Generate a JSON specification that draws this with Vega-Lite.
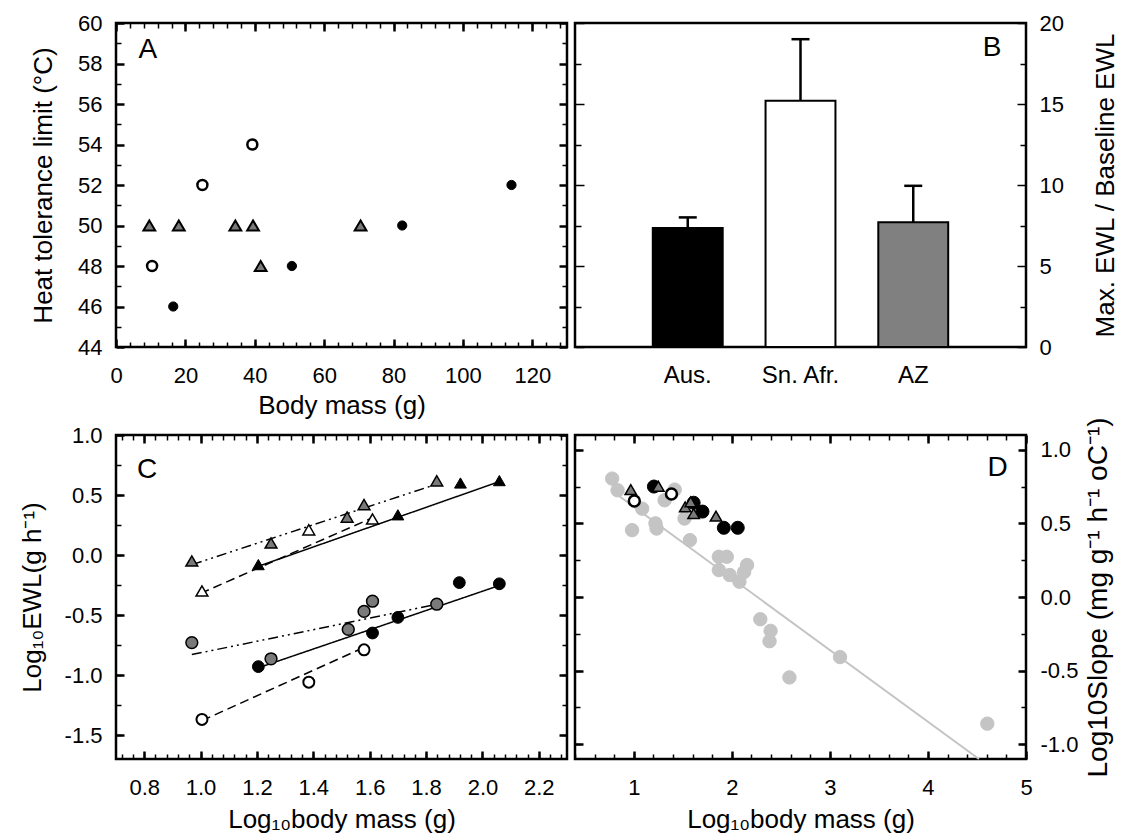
{
  "$schema": "https://vega.github.io/schema/vega-lite/v6.json",
  "padding": {"left": 17, "top": 10, "right": 5, "bottom": 5},
  "background": "white",
  "config": {
    "font": "Liberation Sans",
    "view": {"stroke": "black", "strokeWidth": 2.5},
    "axis": {"labelFont": "Liberation Sans", "titleFont": "Liberation Sans", "labelFontSize": 22, "titleFontSize": 26, "titleFontWeight": "normal", "labelColor": "black", "titleColor": "black", "domainColor": "black", "tickColor": "black", "grid": false, "labelFlush": false, "labelOverlap": false, "domain": false},
    "text": {"font": "Liberation Sans"}
  },
  "datasets": {
    "A": [
      {"mass": 9.6, "htl": 50, "g": "AZ"}, {"mass": 18.1, "htl": 50, "g": "AZ"}, {"mass": 34.4, "htl": 50, "g": "AZ"}, {"mass": 39.5, "htl": 50, "g": "AZ"}, {"mass": 70.5, "htl": 50, "g": "AZ"}, {"mass": 41.7, "htl": 48, "g": "AZ"},
      {"mass": 10.4, "htl": 48, "g": "SA"}, {"mass": 24.9, "htl": 52, "g": "SA"}, {"mass": 39.3, "htl": 54, "g": "SA"},
      {"mass": 16.5, "htl": 46, "g": "Aus"}, {"mass": 50.7, "htl": 48, "g": "Aus"}, {"mass": 82.5, "htl": 50, "g": "Aus"}, {"mass": 114, "htl": 52, "g": "Aus"}
    ],
    "Alabel": [{"label": "A", "mass": 9.2, "htl": 58.65}],
    "B": [
      {"site": "Aus.", "mean": 7.35, "upper": 8.0},
      {"site": "Sn. Afr.", "mean": 15.2, "upper": 19.0},
      {"site": "AZ", "mean": 7.7, "upper": 9.95}
    ],
    "Blabel": [{"label": "B", "px": 0.925, "py": 18.47}],
    "Cpts": [
      {"logm": 1.205, "logewl": -0.93, "g": "Aus_c"}, {"logm": 1.61, "logewl": -0.65, "g": "Aus_c"}, {"logm": 1.70, "logewl": -0.52, "g": "Aus_c"}, {"logm": 1.918, "logewl": -0.23, "g": "Aus_c"}, {"logm": 2.06, "logewl": -0.24, "g": "Aus_c"},
      {"logm": 0.969, "logewl": -0.73, "g": "AZ_c"}, {"logm": 1.25, "logewl": -0.865, "g": "AZ_c"}, {"logm": 1.524, "logewl": -0.62, "g": "AZ_c"}, {"logm": 1.58, "logewl": -0.47, "g": "AZ_c"}, {"logm": 1.61, "logewl": -0.385, "g": "AZ_c"}, {"logm": 1.838, "logewl": -0.41, "g": "AZ_c"},
      {"logm": 1.005, "logewl": -1.37, "g": "SA_c"}, {"logm": 1.384, "logewl": -1.06, "g": "SA_c"}, {"logm": 1.58, "logewl": -0.79, "g": "SA_c"},
      {"logm": 1.205, "logewl": -0.08, "g": "Aus_t"}, {"logm": 1.70, "logewl": 0.335, "g": "Aus_t"}, {"logm": 1.922, "logewl": 0.60, "g": "Aus_t"}, {"logm": 2.06, "logewl": 0.62, "g": "Aus_t"},
      {"logm": 0.969, "logewl": -0.05, "g": "AZ_t"}, {"logm": 1.25, "logewl": 0.10, "g": "AZ_t"}, {"logm": 1.52, "logewl": 0.316, "g": "AZ_t"}, {"logm": 1.58, "logewl": 0.42, "g": "AZ_t"}, {"logm": 1.838, "logewl": 0.618, "g": "AZ_t"},
      {"logm": 1.005, "logewl": -0.30, "g": "SA_t"}, {"logm": 1.384, "logewl": 0.21, "g": "SA_t"}, {"logm": 1.61, "logewl": 0.30, "g": "SA_t"}
    ],
    "Clines": [
      {"logm": 1.21, "logewl": -0.09, "line": "Aus_t", "style": "solid"}, {"logm": 2.07, "logewl": 0.62, "line": "Aus_t", "style": "solid"},
      {"logm": 0.97, "logewl": -0.08, "line": "AZ_t", "style": "dashdot"}, {"logm": 1.85, "logewl": 0.60, "line": "AZ_t", "style": "dashdot"},
      {"logm": 1.0, "logewl": -0.32, "line": "SA_t", "style": "dashed"}, {"logm": 1.6, "logewl": 0.30, "line": "SA_t", "style": "dashed"},
      {"logm": 1.205, "logewl": -0.94, "line": "Aus_c", "style": "solid"}, {"logm": 2.065, "logewl": -0.25, "line": "Aus_c", "style": "solid"},
      {"logm": 0.969, "logewl": -0.83, "line": "AZ_c", "style": "dashdot"}, {"logm": 1.84, "logewl": -0.41, "line": "AZ_c", "style": "dashdot"},
      {"logm": 1.005, "logewl": -1.38, "line": "SA_c", "style": "dashed"}, {"logm": 1.58, "logewl": -0.77, "line": "SA_c", "style": "dashed"}
    ],
    "Clabel": [{"label": "C", "logm": 0.81, "logewl": 0.708}],
    "Dpts": [
      {"logm": 0.779, "slope": 0.804, "g": "other"}, {"logm": 0.834, "slope": 0.725, "g": "other"}, {"logm": 0.982, "slope": 0.454, "g": "other"}, {"logm": 1.085, "slope": 0.60, "g": "other"}, {"logm": 1.221, "slope": 0.50, "g": "other"}, {"logm": 1.232, "slope": 0.465, "g": "other"}, {"logm": 1.314, "slope": 0.657, "g": "other"}, {"logm": 1.417, "slope": 0.729, "g": "other"}, {"logm": 1.517, "slope": 0.533, "g": "other"}, {"logm": 1.572, "slope": 0.386, "g": "other"}, {"logm": 1.867, "slope": 0.273, "g": "other"}, {"logm": 1.948, "slope": 0.273, "g": "other"}, {"logm": 1.867, "slope": 0.183, "g": "other"}, {"logm": 1.978, "slope": 0.149, "g": "other"}, {"logm": 2.077, "slope": 0.104, "g": "other"}, {"logm": 2.155, "slope": 0.217, "g": "other"}, {"logm": 2.125, "slope": 0.17, "g": "other"}, {"logm": 2.29, "slope": -0.151, "g": "other"}, {"logm": 2.395, "slope": -0.23, "g": "other"}, {"logm": 2.384, "slope": -0.30, "g": "other"}, {"logm": 2.587, "slope": -0.546, "g": "other"}, {"logm": 3.103, "slope": -0.408, "g": "other"}, {"logm": 4.605, "slope": -0.86, "g": "other"},
      {"logm": 1.205, "slope": 0.75, "g": "Aus"}, {"logm": 1.61, "slope": 0.64, "g": "Aus"}, {"logm": 1.70, "slope": 0.58, "g": "Aus"}, {"logm": 1.918, "slope": 0.47, "g": "Aus"}, {"logm": 2.06, "slope": 0.47, "g": "Aus"},
      {"logm": 1.005, "slope": 0.652, "g": "SA"}, {"logm": 1.384, "slope": 0.70, "g": "SA"},
      {"logm": 0.969, "slope": 0.729, "g": "AZ"}, {"logm": 1.25, "slope": 0.752, "g": "AZ"}, {"logm": 1.524, "slope": 0.612, "g": "AZ"}, {"logm": 1.58, "slope": 0.646, "g": "AZ"}, {"logm": 1.61, "slope": 0.567, "g": "AZ"}, {"logm": 1.838, "slope": 0.549, "g": "AZ"}
    ],
    "Dline": [{"logm": 0.78, "slope": 0.72}, {"logm": 4.52, "slope": -1.10}],
    "Dlabel": [{"label": "D", "logm": 4.71, "slope": 0.876}]
  },
  "bounds": "flush",
  "columns": 2,
  "spacing": {"row": 88, "column": 8},
  "concat": [
    {
      "width": 451, "height": 324,
      "resolve": {"axis": {"x": "independent", "y": "independent"}},
      "layer": [
        {
          "data": {"name": "A"}, "transform": [{"filter": "datum.g == 'AZ'"}],
          "mark": {"type": "point", "shape": "triangle-up", "filled": true, "fill": "#7a7a7a", "stroke": "black", "strokeWidth": 2, "size": 140, "opacity": 1},
          "encoding": {
            "x": {"field": "mass", "type": "quantitative", "scale": {"domain": [0, 130], "nice": false, "zero": false}, "axis": {"orient": "bottom", "values": [0, 20, 40, 60, 80, 100, 120], "tickSize": 8, "offset": -8, "tickWidth": 2.5, "labelPadding": 18, "title": "Body mass (g)", "titlePadding": 6}},
            "y": {"field": "htl", "type": "quantitative", "scale": {"domain": [44, 60], "nice": false, "zero": false}, "axis": {"orient": "left", "values": [44, 46, 48, 50, 52, 54, 56, 58, 60], "tickSize": 8, "offset": -8, "tickWidth": 2.5, "labelPadding": 14, "title": "Heat tolerance limit (°C)", "titlePadding": 21}}
          }
        },
        {
          "data": {"name": "A"}, "transform": [{"filter": "datum.g == 'SA'"}],
          "mark": {"type": "point", "shape": "circle", "filled": true, "fill": "white", "stroke": "black", "strokeWidth": 2.5, "size": 100, "opacity": 1},
          "encoding": {
            "x": {"field": "mass", "type": "quantitative", "scale": {"domain": [0, 130], "nice": false, "zero": false}, "axis": {"orient": "bottom", "values": [0, 4, 8, 12, 16, 20, 24, 28, 32, 36, 40, 44, 48, 52, 56, 60, 64, 68, 72, 76, 80, 84, 88, 92, 96, 100, 104, 108, 112, 116, 120, 124, 128], "tickSize": 5, "offset": -5, "tickWidth": 1.5, "labels": false, "title": null}},
            "y": {"field": "htl", "type": "quantitative", "scale": {"domain": [44, 60], "nice": false, "zero": false}, "axis": {"orient": "left", "values": [45, 47, 49, 51, 53, 55, 57, 59], "tickSize": 5, "offset": -5, "tickWidth": 1.5, "labels": false, "title": null}}
          }
        },
        {
          "data": {"name": "A"}, "transform": [{"filter": "datum.g == 'Aus'"}],
          "mark": {"type": "point", "shape": "circle", "filled": true, "fill": "black", "stroke": "black", "strokeWidth": 1, "size": 85, "opacity": 1},
          "encoding": {
            "x": {"field": "mass", "type": "quantitative", "scale": {"domain": [0, 130], "nice": false, "zero": false}, "axis": {"orient": "top", "values": [0, 20, 40, 60, 80, 100, 120], "tickSize": 8, "offset": -8, "tickWidth": 2.5, "labels": false, "title": null}},
            "y": {"field": "htl", "type": "quantitative", "scale": {"domain": [44, 60], "nice": false, "zero": false}, "axis": {"orient": "right", "values": [44, 46, 48, 50, 52, 54, 56, 58, 60], "tickSize": 8, "offset": -8, "tickWidth": 2.5, "labels": false, "title": null}}
          }
        },
        {
          "data": {"name": "Alabel"},
          "mark": {"type": "text", "fontSize": 28, "align": "center", "baseline": "middle", "color": "black"},
          "encoding": {
            "text": {"field": "label"},
            "x": {"field": "mass", "type": "quantitative", "scale": {"domain": [0, 130], "nice": false, "zero": false}, "axis": {"orient": "top", "values": [0, 4, 8, 12, 16, 20, 24, 28, 32, 36, 40, 44, 48, 52, 56, 60, 64, 68, 72, 76, 80, 84, 88, 92, 96, 100, 104, 108, 112, 116, 120, 124, 128], "tickSize": 5, "offset": -5, "tickWidth": 1.5, "labels": false, "title": null}},
            "y": {"field": "htl", "type": "quantitative", "scale": {"domain": [44, 60], "nice": false, "zero": false}, "axis": {"orient": "right", "values": [45, 47, 49, 51, 53, 55, 57, 59], "tickSize": 5, "offset": -5, "tickWidth": 1.5, "labels": false, "title": null}}
          }
        }
      ]
    },
    {
      "width": 451, "height": 324,
      "resolve": {"scale": {"x": "independent"}, "axis": {"x": "independent", "y": "independent"}},
      "layer": [
        {
          "data": {"name": "B"},
          "mark": {"type": "bar", "stroke": "black", "strokeWidth": 2},
          "encoding": {
            "x": {"field": "site", "type": "nominal", "sort": null, "scale": {"domain": ["Aus.", "Sn. Afr.", "AZ"], "paddingInner": 0.38, "paddingOuter": 0.69}, "axis": {"orient": "bottom", "ticks": false, "labelAngle": 0, "labelFontSize": 24, "labelPadding": 16, "title": null}},
            "y": {"field": "mean", "type": "quantitative", "scale": {"domain": [0, 20], "nice": false}, "axis": {"orient": "right", "values": [0, 5, 10, 15, 20], "tickSize": 9, "offset": -9, "tickWidth": 1.5, "labelPadding": 13, "title": "Max. EWL / Baseline EWL", "titleAngle": 270, "titleBaseline": "top", "titlePadding": 29}},
            "fill": {"field": "site", "type": "nominal", "scale": {"domain": ["Aus.", "Sn. Afr.", "AZ"], "range": ["#000000", "#ffffff", "#808080"]}, "legend": null}
          }
        },
        {
          "data": {"name": "B"},
          "mark": {"type": "rule", "strokeWidth": 2.5, "color": "black"},
          "encoding": {
            "x": {"field": "site", "type": "nominal", "sort": null, "scale": {"domain": ["Aus.", "Sn. Afr.", "AZ"], "paddingInner": 0.38, "paddingOuter": 0.69}, "axis": null},
            "y": {"field": "mean", "type": "quantitative", "scale": {"domain": [0, 20], "nice": false}, "axis": {"orient": "right", "values": [2.5, 7.5, 12.5, 17.5], "tickSize": 6, "offset": -6, "tickWidth": 1.5, "labels": false, "title": null}},
            "y2": {"field": "upper"}
          }
        },
        {
          "data": {"name": "B"},
          "mark": {"type": "tick", "orient": "horizontal", "size": 18, "thickness": 2.5, "color": "black", "opacity": 1},
          "encoding": {
            "x": {"field": "site", "type": "nominal", "sort": null, "scale": {"domain": ["Aus.", "Sn. Afr.", "AZ"], "paddingInner": 0.38, "paddingOuter": 0.69}, "axis": null},
            "y": {"field": "upper", "type": "quantitative", "scale": {"domain": [0, 20], "nice": false}, "axis": {"orient": "left", "values": [0, 5, 10, 15, 20], "tickSize": 9, "offset": -9, "tickWidth": 1.5, "labels": false, "title": null}}
          }
        },
        {
          "data": {"name": "Blabel"},
          "mark": {"type": "text", "fontSize": 28, "align": "center", "baseline": "middle", "color": "black"},
          "encoding": {
            "text": {"field": "label"},
            "x": {"field": "px", "type": "quantitative", "scale": {"domain": [0, 1], "nice": false, "zero": false}, "axis": null},
            "y": {"field": "py", "type": "quantitative", "scale": {"domain": [0, 20], "nice": false}, "axis": {"orient": "left", "values": [2.5, 7.5, 12.5, 17.5], "tickSize": 6, "offset": -6, "tickWidth": 1.5, "labels": false, "title": null}}
          }
        }
      ]
    },
    {
      "width": 451, "height": 324,
      "resolve": {"axis": {"x": "independent", "y": "independent"}},
      "layer": [
        {
          "data": {"name": "Clines"},
          "mark": {"type": "line", "color": "black", "strokeWidth": 1.5},
          "encoding": {
            "x": {"field": "logm", "type": "quantitative", "scale": {"domain": [0.7, 2.3], "nice": false, "zero": false}, "axis": {"orient": "bottom", "values": [0.8, 1.0, 1.2, 1.4, 1.6, 1.8, 2.0, 2.2], "format": ".1f", "tickSize": 8, "offset": -8, "tickWidth": 2.5, "labelPadding": 18, "title": "Log₁₀body mass (g)", "titlePadding": 8}},
            "y": {"field": "logewl", "type": "quantitative", "scale": {"domain": [-1.7, 1.0], "nice": false, "zero": false}, "axis": {"orient": "left", "values": [-1.5, -1.0, -0.5, 0, 0.5, 1.0], "labelExpr": "replace(format(datum.value, '.1f'), '−', '-')", "tickSize": 8, "offset": -8, "tickWidth": 2.5, "labelPadding": 14, "title": "Log₁₀EWL(g h⁻¹)", "titlePadding": 19}},
            "detail": {"field": "line"},
            "strokeDash": {"field": "style", "type": "nominal", "scale": {"domain": ["solid", "dashed", "dashdot"], "range": [[1, 0], [9, 5], [10, 4, 2, 4, 2, 4]]}, "legend": null}
          }
        },
        {
          "data": {"name": "Cpts"}, "transform": [{"filter": "datum.g == 'Aus_t'"}],
          "mark": {"type": "point", "shape": "triangle-up", "filled": true, "fill": "black", "stroke": "black", "strokeWidth": 1, "size": 140, "opacity": 1},
          "encoding": {
            "x": {"field": "logm", "type": "quantitative", "scale": {"domain": [0.7, 2.3], "nice": false, "zero": false}, "axis": {"orient": "bottom", "values": [0.72, 0.76, 0.8, 0.84, 0.88, 0.92, 0.96, 1.0, 1.04, 1.08, 1.12, 1.16, 1.2, 1.24, 1.28, 1.32, 1.36, 1.4, 1.44, 1.48, 1.52, 1.56, 1.6, 1.64, 1.68, 1.72, 1.76, 1.8, 1.84, 1.88, 1.92, 1.96, 2.0, 2.04, 2.08, 2.12, 2.16, 2.2, 2.24, 2.28], "tickSize": 5, "offset": -5, "tickWidth": 1.5, "labels": false, "title": null}},
            "y": {"field": "logewl", "type": "quantitative", "scale": {"domain": [-1.7, 1.0], "nice": false, "zero": false}, "axis": {"orient": "left", "values": [-1.5, -1.25, -1.0, -0.75, -0.5, -0.25, 0, 0.25, 0.5, 0.75, 1.0], "tickSize": 5, "offset": -5, "tickWidth": 1.5, "labels": false, "title": null}}
          }
        },
        {
          "data": {"name": "Cpts"}, "transform": [{"filter": "datum.g == 'AZ_t'"}],
          "mark": {"type": "point", "shape": "triangle-up", "filled": true, "fill": "#7a7a7a", "stroke": "black", "strokeWidth": 1.5, "size": 140, "opacity": 1},
          "encoding": {
            "x": {"field": "logm", "type": "quantitative", "scale": {"domain": [0.7, 2.3], "nice": false, "zero": false}, "axis": {"orient": "top", "values": [0.8, 1.0, 1.2, 1.4, 1.6, 1.8, 2.0, 2.2], "tickSize": 8, "offset": -8, "tickWidth": 2.5, "labels": false, "title": null}},
            "y": {"field": "logewl", "type": "quantitative", "scale": {"domain": [-1.7, 1.0], "nice": false, "zero": false}, "axis": {"orient": "right", "values": [-1.5, -1.0, -0.5, 0, 0.5, 1.0], "tickSize": 8, "offset": -8, "tickWidth": 2.5, "labels": false, "title": null}}
          }
        },
        {
          "data": {"name": "Cpts"}, "transform": [{"filter": "datum.g == 'SA_t'"}],
          "mark": {"type": "point", "shape": "triangle-up", "filled": true, "fill": "white", "stroke": "black", "strokeWidth": 1.5, "size": 140, "opacity": 1},
          "encoding": {
            "x": {"field": "logm", "type": "quantitative", "scale": {"domain": [0.7, 2.3], "nice": false, "zero": false}, "axis": {"orient": "top", "values": [0.72, 0.76, 0.8, 0.84, 0.88, 0.92, 0.96, 1.0, 1.04, 1.08, 1.12, 1.16, 1.2, 1.24, 1.28, 1.32, 1.36, 1.4, 1.44, 1.48, 1.52, 1.56, 1.6, 1.64, 1.68, 1.72, 1.76, 1.8, 1.84, 1.88, 1.92, 1.96, 2.0, 2.04, 2.08, 2.12, 2.16, 2.2, 2.24, 2.28], "tickSize": 5, "offset": -5, "tickWidth": 1.5, "labels": false, "title": null}},
            "y": {"field": "logewl", "type": "quantitative", "scale": {"domain": [-1.7, 1.0], "nice": false, "zero": false}, "axis": {"orient": "right", "values": [-1.5, -1.25, -1.0, -0.75, -0.5, -0.25, 0, 0.25, 0.5, 0.75, 1.0], "tickSize": 5, "offset": -5, "tickWidth": 1.5, "labels": false, "title": null}}
          }
        },
        {
          "data": {"name": "Cpts"}, "transform": [{"filter": "datum.g == 'Aus_c'"}],
          "mark": {"type": "point", "shape": "circle", "filled": true, "fill": "black", "stroke": "black", "strokeWidth": 1, "size": 140, "opacity": 1},
          "encoding": {
            "x": {"field": "logm", "type": "quantitative", "scale": {"domain": [0.7, 2.3], "nice": false, "zero": false}, "axis": null},
            "y": {"field": "logewl", "type": "quantitative", "scale": {"domain": [-1.7, 1.0], "nice": false, "zero": false}, "axis": null}
          }
        },
        {
          "data": {"name": "Cpts"}, "transform": [{"filter": "datum.g == 'AZ_c'"}],
          "mark": {"type": "point", "shape": "circle", "filled": true, "fill": "#7a7a7a", "stroke": "black", "strokeWidth": 1.5, "size": 140, "opacity": 1},
          "encoding": {
            "x": {"field": "logm", "type": "quantitative", "scale": {"domain": [0.7, 2.3], "nice": false, "zero": false}, "axis": null},
            "y": {"field": "logewl", "type": "quantitative", "scale": {"domain": [-1.7, 1.0], "nice": false, "zero": false}, "axis": null}
          }
        },
        {
          "data": {"name": "Cpts"}, "transform": [{"filter": "datum.g == 'SA_c'"}],
          "mark": {"type": "point", "shape": "circle", "filled": true, "fill": "white", "stroke": "black", "strokeWidth": 2, "size": 120, "opacity": 1},
          "encoding": {
            "x": {"field": "logm", "type": "quantitative", "scale": {"domain": [0.7, 2.3], "nice": false, "zero": false}, "axis": null},
            "y": {"field": "logewl", "type": "quantitative", "scale": {"domain": [-1.7, 1.0], "nice": false, "zero": false}, "axis": null}
          }
        },
        {
          "data": {"name": "Clabel"},
          "mark": {"type": "text", "fontSize": 28, "align": "center", "baseline": "middle", "color": "black"},
          "encoding": {
            "text": {"field": "label"},
            "x": {"field": "logm", "type": "quantitative", "scale": {"domain": [0.7, 2.3], "nice": false, "zero": false}, "axis": null},
            "y": {"field": "logewl", "type": "quantitative", "scale": {"domain": [-1.7, 1.0], "nice": false, "zero": false}, "axis": null}
          }
        }
      ]
    },
    {
      "width": 451, "height": 324,
      "resolve": {"axis": {"x": "independent", "y": "independent"}},
      "layer": [
        {
          "data": {"name": "Dline"},
          "mark": {"type": "line", "color": "#c4c4c4", "strokeWidth": 2},
          "encoding": {
            "x": {"field": "logm", "type": "quantitative", "scale": {"domain": [0.4, 5], "nice": false, "zero": false}, "axis": {"orient": "bottom", "values": [1, 2, 3, 4, 5], "tickSize": 8, "offset": -8, "tickWidth": 2.5, "labelPadding": 18, "title": "Log₁₀body mass (g)", "titlePadding": 8}},
            "y": {"field": "slope", "type": "quantitative", "scale": {"domain": [-1.1, 1.1], "nice": false, "zero": false}, "axis": {"orient": "right", "values": [-1.0, -0.5, 0, 0.5, 1.0], "labelExpr": "replace(format(datum.value, '.1f'), '−', '-')", "tickSize": 8, "offset": -8, "tickWidth": 2.5, "labelPadding": 14, "title": "Log10Slope (mg g⁻¹ h⁻¹ oC⁻¹)", "titleFontSize": 28, "titleAngle": 270, "titleBaseline": "top", "titlePadding": 7}}
          }
        },
        {
          "data": {"name": "Dpts"}, "transform": [{"filter": "datum.g == 'other'"}],
          "mark": {"type": "point", "shape": "circle", "filled": true, "fill": "#c4c4c4", "stroke": "#c4c4c4", "strokeWidth": 1, "size": 180, "opacity": 1},
          "encoding": {
            "x": {"field": "logm", "type": "quantitative", "scale": {"domain": [0.4, 5], "nice": false, "zero": false}, "axis": {"orient": "bottom", "values": [0.4, 0.6, 0.8, 1.0, 1.2, 1.4, 1.6, 1.8, 2.0, 2.2, 2.4, 2.6, 2.8, 3.0, 3.2, 3.4, 3.6, 3.8, 4.0, 4.2, 4.4, 4.6, 4.8, 5.0], "tickSize": 5, "offset": -5, "tickWidth": 1.5, "labels": false, "title": null}},
            "y": {"field": "slope", "type": "quantitative", "scale": {"domain": [-1.1, 1.1], "nice": false, "zero": false}, "axis": {"orient": "right", "values": [-1.0, -0.75, -0.5, -0.25, 0, 0.25, 0.5, 0.75, 1.0], "tickSize": 5, "offset": -5, "tickWidth": 1.5, "labels": false, "title": null}}
          }
        },
        {
          "data": {"name": "Dpts"}, "transform": [{"filter": "datum.g == 'Aus'"}],
          "mark": {"type": "point", "shape": "circle", "filled": true, "fill": "black", "stroke": "black", "strokeWidth": 1, "size": 170, "opacity": 1},
          "encoding": {
            "x": {"field": "logm", "type": "quantitative", "scale": {"domain": [0.4, 5], "nice": false, "zero": false}, "axis": {"orient": "top", "values": [1, 2, 3, 4, 5], "tickSize": 8, "offset": -8, "tickWidth": 2.5, "labels": false, "title": null}},
            "y": {"field": "slope", "type": "quantitative", "scale": {"domain": [-1.1, 1.1], "nice": false, "zero": false}, "axis": {"orient": "left", "values": [-1.0, -0.5, 0, 0.5, 1.0], "tickSize": 8, "offset": -8, "tickWidth": 2.5, "labels": false, "title": null}}
          }
        },
        {
          "data": {"name": "Dpts"}, "transform": [{"filter": "datum.g == 'AZ'"}],
          "mark": {"type": "point", "shape": "triangle-up", "filled": true, "fill": "#7a7a7a", "stroke": "black", "strokeWidth": 1.5, "size": 130, "opacity": 1},
          "encoding": {
            "x": {"field": "logm", "type": "quantitative", "scale": {"domain": [0.4, 5], "nice": false, "zero": false}, "axis": {"orient": "top", "values": [0.4, 0.6, 0.8, 1.0, 1.2, 1.4, 1.6, 1.8, 2.0, 2.2, 2.4, 2.6, 2.8, 3.0, 3.2, 3.4, 3.6, 3.8, 4.0, 4.2, 4.4, 4.6, 4.8, 5.0], "tickSize": 5, "offset": -5, "tickWidth": 1.5, "labels": false, "title": null}},
            "y": {"field": "slope", "type": "quantitative", "scale": {"domain": [-1.1, 1.1], "nice": false, "zero": false}, "axis": {"orient": "left", "values": [-1.0, -0.75, -0.5, -0.25, 0, 0.25, 0.5, 0.75, 1.0], "tickSize": 5, "offset": -5, "tickWidth": 1.5, "labels": false, "title": null}}
          }
        },
        {
          "data": {"name": "Dpts"}, "transform": [{"filter": "datum.g == 'SA'"}],
          "mark": {"type": "point", "shape": "circle", "filled": true, "fill": "white", "stroke": "black", "strokeWidth": 2.5, "size": 120, "opacity": 1},
          "encoding": {
            "x": {"field": "logm", "type": "quantitative", "scale": {"domain": [0.4, 5], "nice": false, "zero": false}, "axis": null},
            "y": {"field": "slope", "type": "quantitative", "scale": {"domain": [-1.1, 1.1], "nice": false, "zero": false}, "axis": null}
          }
        },
        {
          "data": {"name": "Dlabel"},
          "mark": {"type": "text", "fontSize": 28, "align": "center", "baseline": "middle", "color": "black"},
          "encoding": {
            "text": {"field": "label"},
            "x": {"field": "logm", "type": "quantitative", "scale": {"domain": [0.4, 5], "nice": false, "zero": false}, "axis": null},
            "y": {"field": "slope", "type": "quantitative", "scale": {"domain": [-1.1, 1.1], "nice": false, "zero": false}, "axis": null}
          }
        }
      ]
    }
  ]
}
